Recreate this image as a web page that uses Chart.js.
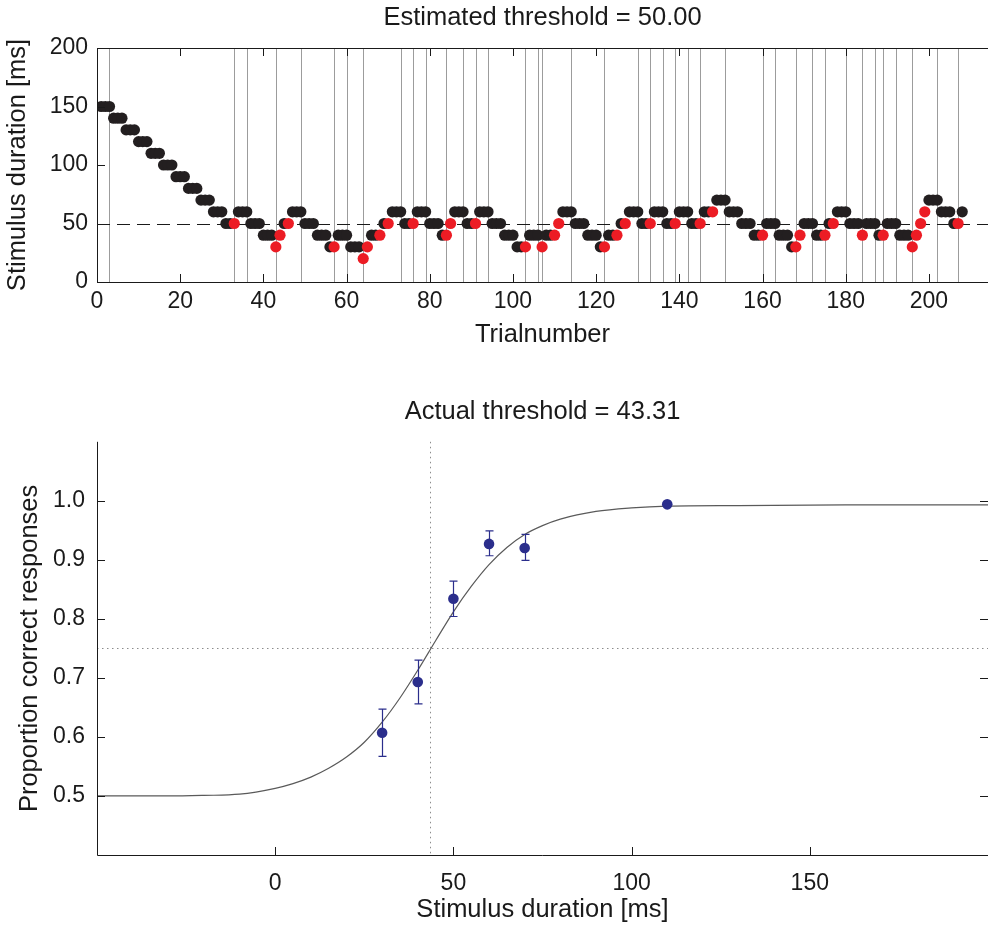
<!DOCTYPE html>
<html>
<head>
<meta charset="utf-8">
<script src="https://cdn.jsdelivr.net/npm/chart.js@4.4.1/dist/chart.umd.min.js"></script>
<style>
html, body { margin: 0; padding: 0; background: #fff; }
#wrap { position: relative; width: 988px; height: 926px; }
#wrap canvas { position: absolute; left: 0; }
#stairChart { top: 0; }
#psychChart { top: 370px; }
</style>
</head>
<body>
<div id="wrap">
  <canvas id="stairChart" width="988" height="370" style="width:988px;height:370px"></canvas>
  <canvas id="psychChart" width="988" height="556" style="width:988px;height:556px"></canvas>
</div>
<script>
// ---- staircase (top panel) ----
// stimulus duration per trial (trial 1..208)
const stimLevels = [
  150,150,150,140,140,140,130,130,130,120,
  120,120,110,110,110,100,100,100, 90, 90,
   90, 80, 80, 80, 70, 70, 70, 60, 60, 60,
   50, 50, 50, 60, 60, 60, 50, 50, 50, 40,
   40, 40, 30, 40, 50, 50, 60, 60, 60, 50,
   50, 50, 40, 40, 40, 30, 30, 40, 40, 40,
   30, 30, 30, 20, 30, 40, 40, 40, 50, 50,
   60, 60, 60, 50, 50, 50, 60, 60, 60, 50,
   50, 50, 40, 40, 50, 60, 60, 60, 50, 50,
   50, 60, 60, 60, 50, 50, 50, 40, 40, 40,
   30, 30, 30, 40, 40, 40, 30, 40, 40, 40,
   50, 60, 60, 60, 50, 50, 50, 40, 40, 40,
   30, 30, 40, 40, 40, 50, 50, 60, 60, 60,
   50, 50, 50, 60, 60, 60, 50, 50, 50, 60,
   60, 60, 50, 50, 50, 60, 60, 60, 70, 70,
   70, 60, 60, 60, 50, 50, 50, 40, 40, 40,
   50, 50, 50, 40, 40, 40, 30, 30, 40, 50,
   50, 50, 40, 40, 40, 50, 50, 60, 60, 60,
   50, 50, 50, 40, 50, 50, 50, 40, 40, 50,
   50, 50, 40, 40, 40, 30, 40, 50, 60, 70,
   70, 70, 60, 60, 60, 50, 50, 60
];
// 1 = correct, 0 = wrong (red)
const responses = [
  1,1,1,1,1,1,1,1,1,1,
  1,1,1,1,1,1,1,1,1,1,
  1,1,1,1,1,1,1,1,1,1,
  1,1,0,1,1,1,1,1,1,1,
  1,1,0,0,1,0,1,1,1,1,
  1,1,1,1,1,1,0,1,1,1,
  1,1,1,0,0,1,1,0,1,0,
  1,1,1,1,1,0,1,1,1,1,
  1,1,1,0,0,1,1,1,1,1,
  0,1,1,1,1,1,1,1,1,1,
  1,1,0,1,1,1,0,1,1,0,
  0,1,1,1,1,1,1,1,1,1,
  1,0,1,1,0,1,0,1,1,1,
  1,1,0,1,1,1,1,1,0,1,
  1,1,1,1,0,1,1,0,1,1,
  1,1,1,1,1,1,1,1,1,0,
  1,1,1,1,1,1,1,0,0,1,
  1,1,1,1,0,1,0,1,1,1,
  1,1,1,0,1,1,1,1,0,1,
  1,1,1,1,1,0,0,0,0,1,
  1,1,1,1,1,1,0,1
];
const estThreshold = 50.00;
const stairXTicks = [0, 20, 40, 60, 80, 100, 120, 140, 160, 180, 200];
const stairYTicks = [0, 50, 100, 150, 200];

// ---- psychometric function (bottom panel) ----
const testDurations = [30, 40, 50, 60, 70, 110];
const propCorrect   = [0.607, 0.693, 0.834, 0.927, 0.920, 0.994];
const propErrLow    = [0.567, 0.656, 0.804, 0.907, 0.899, 0.994];
const propErrHigh   = [0.647, 0.730, 0.864, 0.949, 0.943, 0.994];
const fitX = [-50, -30, -20, -10, 0, 5, 10, 15, 20, 25, 30, 35, 40, 45, 50, 55, 60, 65, 70, 75, 80, 90, 100, 110, 130, 160, 200];
const fitY = [0.500, 0.500, 0.501, 0.503, 0.513, 0.521, 0.532, 0.547, 0.566, 0.591, 0.625, 0.666, 0.713, 0.763, 0.812,
              0.855, 0.892, 0.921, 0.943, 0.958, 0.969, 0.982, 0.988, 0.991, 0.992, 0.993, 0.993];
const actualThreshold = 43.31;
const criterionLevel = 0.75;
const psychXTicks = [0, 50, 100, 150];
const psychYTicks = [0.5, 0.6, 0.7, 0.8, 0.9, 1.0];

Chart.defaults.font.family = "'Liberation Sans', Arial, sans-serif";
Chart.defaults.color = '#1a1a1a';

const INK = '#1a1a1a';
const TICK_FONT = { size: 23 };
const LABEL_FONT = { size: 25.5 };

// trials after which the staircase changes direction
function findReversals(levels) {
    const out = [];
    let lastDir = 0;
    for (let i = 0; i < levels.length - 1; i++) {
        const d = Math.sign(levels[i + 1] - levels[i]);
        if (d !== 0) {
            if (d !== lastDir) out.push(i + 1);
            lastDir = d;
        }
    }
    return out;
}

function fixedTicks(values) {
    return scale => { scale.ticks = values.map(v => ({ value: v })); };
}

// Matlab style box: axis lines + inward tick marks
function axesFramePlugin(opts) {
    return {
        id: 'axesFrame',
        afterDraw(chart) {
            const { ctx, chartArea: { left, right, top, bottom }, scales: { x, y } } = chart;
            const L = 8;
            ctx.save();
            ctx.strokeStyle = INK;
            ctx.lineWidth = 1;
            ctx.beginPath();
            ctx.moveTo(left + 0.5, top);
            ctx.lineTo(left + 0.5, bottom + 0.5);
            ctx.lineTo(right, bottom + 0.5);
            if (opts.topBorder) {
                ctx.moveTo(left, top + 0.5);
                ctx.lineTo(right, top + 0.5);
            }
            x.ticks.forEach(t => {
                const px = Math.round(x.getPixelForValue(t.value)) + 0.5;
                ctx.moveTo(px, bottom);
                ctx.lineTo(px, bottom - L);
                if (opts.topTicks) {
                    ctx.moveTo(px, top);
                    ctx.lineTo(px, top + L);
                }
            });
            y.ticks.forEach(t => {
                const py = Math.round(y.getPixelForValue(t.value)) + 0.5;
                ctx.moveTo(left, py);
                ctx.lineTo(left + L, py);
                if (opts.rightTicks) {
                    ctx.moveTo(right, py);
                    ctx.lineTo(right - L, py);
                }
            });
            ctx.stroke();
            ctx.restore();
        }
    };
}

// ---------------- top: staircase ----------------
const reversals = findReversals(stimLevels);

const stairGuides = {
    id: 'stairGuides',
    beforeDatasetsDraw(chart) {
        const { ctx, chartArea: { left, right, top, bottom }, scales: { x, y } } = chart;
        ctx.save();
        ctx.strokeStyle = '#9c9c9c';
        ctx.lineWidth = 1;
        ctx.beginPath();
        reversals.forEach(t => {
            const px = Math.round(x.getPixelForValue(t)) + 0.5;
            ctx.moveTo(px, top);
            ctx.lineTo(px, bottom);
        });
        ctx.stroke();

        ctx.strokeStyle = INK;
        ctx.setLineDash([13, 7]);
        ctx.beginPath();
        const py = Math.round(y.getPixelForValue(estThreshold)) + 0.5;
        ctx.moveTo(left, py);
        ctx.lineTo(right, py);
        ctx.stroke();
        ctx.restore();
    }
};

const correctPts = [];
const wrongPts = [];
stimLevels.forEach((v, i) => {
    (responses[i] ? correctPts : wrongPts).push({ x: i + 1, y: v });
});

new Chart(document.getElementById('stairChart'), {
    type: 'scatter',
    data: {
        datasets: [
            { data: wrongPts, backgroundColor: '#ec1c24', borderWidth: 0, pointRadius: 5.6, order: 0 },
            { data: correctPts, backgroundColor: '#231f20', borderWidth: 0, pointRadius: 5.6, order: 1 }
        ]
    },
    options: {
        responsive: false,
        devicePixelRatio: 1,
        animation: false,
        events: [],
        layout: { padding: 0, autoPadding: false },
        plugins: {
            legend: { display: false },
            tooltip: { enabled: false },
            title: {
                display: true,
                fullSize: false,
                text: 'Estimated threshold = ' + estThreshold.toFixed(2),
                font: { size: 25.5, weight: 'normal' },
                color: INK,
                padding: { top: 2.7, bottom: 14.7 }
            }
        },
        scales: {
            x: {
                type: 'linear',
                min: 0,
                max: 214.2,
                afterBuildTicks: fixedTicks(stairXTicks),
                afterFit: s => { s.height = 88; s.paddingLeft = 0; s.paddingRight = 0; },
                grid: { display: false, drawTicks: false },
                border: { display: false },
                ticks: { font: TICK_FONT, color: INK, padding: 6, maxRotation: 0, autoSkip: false },
                title: { display: true, text: 'Trialnumber', font: LABEL_FONT, color: INK, padding: { top: 0, bottom: 19.7 } }
            },
            y: {
                type: 'linear',
                min: 0,
                max: 200,
                afterBuildTicks: fixedTicks(stairYTicks),
                afterFit: s => { s.width = 97; },
                grid: { display: false, drawTicks: false },
                border: { display: false },
                ticks: { font: TICK_FONT, color: INK, padding: 9 },
                title: { display: true, text: 'Stimulus duration [ms]', font: LABEL_FONT, color: INK, padding: { top: 2.7, bottom: 0 } }
            }
        }
    },
    plugins: [stairGuides, axesFramePlugin({ topBorder: true, topTicks: true, rightTicks: false })]
});

// ---------------- bottom: psychometric function ----------------
const psychGuides = {
    id: 'psychGuides',
    beforeDatasetsDraw(chart) {
        const { ctx, chartArea: { left, right, top, bottom }, scales: { x, y } } = chart;
        ctx.save();
        ctx.strokeStyle = '#8c8c8c';
        ctx.lineWidth = 1;
        ctx.setLineDash([1.5, 3.5]);
        ctx.beginPath();
        const px = Math.round(x.getPixelForValue(actualThreshold)) + 0.5;
        ctx.moveTo(px, top);
        ctx.lineTo(px, bottom);
        const py = Math.round(y.getPixelForValue(criterionLevel)) + 0.5;
        ctx.moveTo(left, py);
        ctx.lineTo(right, py);
        ctx.stroke();
        ctx.restore();
    },
    afterDatasetsDraw(chart) {
        // error bars
        const { ctx, scales: { x, y } } = chart;
        ctx.save();
        ctx.strokeStyle = '#2b2e8c';
        ctx.lineWidth = 1.2;
        ctx.beginPath();
        testDurations.forEach((d, i) => {
            const px = Math.round(x.getPixelForValue(d)) + 0.5;
            const y1 = y.getPixelForValue(propErrLow[i]);
            const y2 = y.getPixelForValue(propErrHigh[i]);
            ctx.moveTo(px, y1); ctx.lineTo(px, y2);
            ctx.moveTo(px - 4, y1); ctx.lineTo(px + 4, y1);
            ctx.moveTo(px - 4, y2); ctx.lineTo(px + 4, y2);
        });
        ctx.stroke();
        ctx.restore();
    }
};

new Chart(document.getElementById('psychChart'), {
    type: 'scatter',
    data: {
        datasets: [
            {
                data: testDurations.map((d, i) => ({ x: d, y: propCorrect[i] })),
                backgroundColor: '#2b2e8c',
                borderWidth: 0,
                pointRadius: 5.3,
                order: 0
            },
            {
                type: 'line',
                data: fitX.map((v, i) => ({ x: v, y: fitY[i] })),
                borderColor: '#5a5a5a',
                borderWidth: 1.2,
                pointRadius: 0,
                cubicInterpolationMode: 'monotone',
                fill: false,
                order: 1
            }
        ]
    },
    options: {
        responsive: false,
        devicePixelRatio: 1,
        animation: false,
        events: [],
        layout: { padding: 0, autoPadding: false },
        plugins: {
            legend: { display: false },
            tooltip: { enabled: false },
            title: {
                display: true,
                fullSize: false,
                text: 'Actual threshold = ' + actualThreshold.toFixed(2),
                font: { size: 25.5, weight: 'normal' },
                color: INK,
                padding: { top: 26.7, bottom: 14.5 }
            }
        },
        scales: {
            x: {
                type: 'linear',
                min: -50,
                max: 200,
                afterBuildTicks: fixedTicks(psychXTicks),
                afterFit: s => { s.height = 71; s.paddingLeft = 0; s.paddingRight = 0; },
                grid: { display: false, drawTicks: false },
                border: { display: false },
                ticks: { font: TICK_FONT, color: INK, padding: 15, maxRotation: 0, autoSkip: false },
                title: { display: true, text: 'Stimulus duration [ms]', font: LABEL_FONT, color: INK, padding: { top: 0, bottom: 0.7 } }
            },
            y: {
                type: 'linear',
                min: 0.4,
                max: 1.1,
                afterBuildTicks: fixedTicks(psychYTicks),
                afterFit: s => { s.width = 97; },
                grid: { display: false, drawTicks: false },
                border: { display: false },
                ticks: { font: TICK_FONT, color: INK, padding: 12, callback: v => v.toFixed(1) },
                title: { display: true, text: 'Proportion correct responses', font: LABEL_FONT, color: INK, padding: { top: 14.7, bottom: 0 } }
            }
        }
    },
    plugins: [psychGuides, axesFramePlugin({ topBorder: false, topTicks: false, rightTicks: true })]
});
</script>
</body>
</html>
